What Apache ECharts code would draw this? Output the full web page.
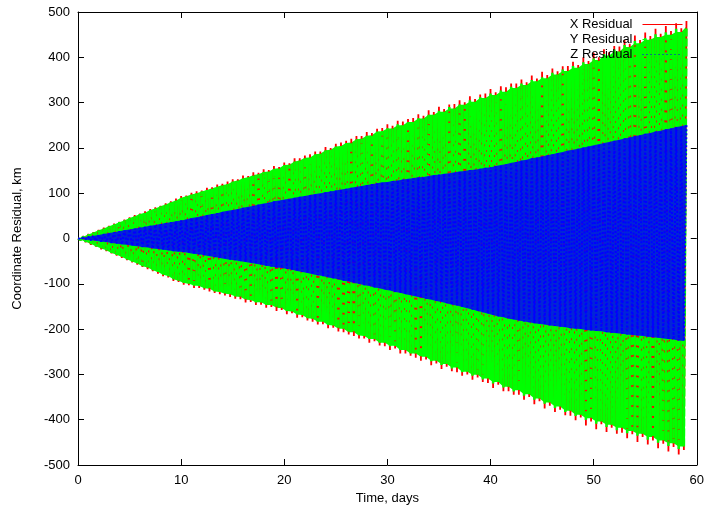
<!DOCTYPE html>
<html>
<head>
<meta charset="utf-8">
<title>Coordinate Residual</title>
<script src="https://cdn.jsdelivr.net/npm/echarts@6/dist/echarts.min.js"></script>
<style>
html, body { margin: 0; padding: 0; background: #fff; }
#chart { width: 707px; height: 510px; }
</style>
</head>
<body>
<div id="chart"></div>
<script>
// residual peaks every half day (t = 0, 0.5 ... 59), troughs a quarter day after each peak
var stepDays = 0.5;

var xHi = [
    0, 5, 10, 14, 19, 24, 28, 33, 37, 42,
    47, 52, 55, 60, 65, 69, 72, 78, 82, 88,
    94, 95, 101, 104, 106, 112, 113, 119, 121, 126,
    131, 131, 139, 138, 146, 145, 153, 151, 160, 158,
    168, 166, 177, 177, 183, 186, 192, 192, 202, 200,
    209, 212, 216, 220, 226, 226, 235, 233, 242, 244,
    252, 249, 260, 258, 264, 266, 274, 271, 283, 279,
    291, 286, 296, 297, 305, 301, 314, 308, 318, 320,
    330, 323, 336, 334, 342, 342, 351, 345, 360, 353,
    368, 361, 375, 369, 380, 381, 390, 383, 400, 392,
    410, 400, 418, 411, 425, 424, 438, 430, 448, 438,
    455, 447, 463, 452, 469, 458, 475, 464, 480
];
var xLo = [
    -4, -8, -14, -18, -24, -28, -33, -38, -43, -48,
    -53, -58, -63, -68, -72, -78, -83, -86, -94, -96,
    -102, -103, -109, -109, -113, -117, -120, -123, -126, -129,
    -133, -134, -141, -140, -147, -146, -153, -151, -160, -158,
    -167, -165, -175, -174, -181, -184, -190, -189, -198, -197,
    -205, -207, -212, -215, -221, -221, -230, -227, -236, -238,
    -246, -243, -254, -254, -259, -263, -270, -267, -280, -276,
    -288, -283, -293, -295, -303, -300, -312, -307, -317, -319,
    -330, -323, -337, -337, -345, -345, -356, -350, -366, -359,
    -375, -369, -383, -378, -390, -391, -401, -395, -413, -404,
    -421, -410, -427, -418, -431, -429, -441, -432, -449, -438,
    -455, -446, -463, -453, -470, -460, -477, -467
];

var yHi = [
    0, 4, 9, 13, 18, 22, 27, 31, 36, 40,
    45, 49, 54, 57, 63, 66, 71, 75, 80, 84,
    90, 93, 97, 100, 104, 107, 111, 114, 118, 120,
    126, 128, 133, 135, 140, 142, 147, 148, 154, 155,
    162, 163, 170, 172, 178, 179, 186, 187, 195, 196,
    203, 204, 211, 212, 219, 220, 227, 228, 236, 237,
    244, 243, 252, 250, 259, 257, 266, 265, 274, 273,
    282, 280, 290, 287, 297, 295, 305, 302, 312, 310,
    320, 317, 328, 324, 335, 332, 342, 339, 350, 347,
    358, 354, 366, 362, 373, 370, 381, 377, 389, 385,
    398, 394, 407, 404, 417, 413, 427, 423, 436, 431,
    444, 439, 451, 445, 457, 450, 463, 456, 468
];
var yLo = [
    -3, -7, -12, -17, -22, -26, -32, -36, -41, -46,
    -51, -55, -61, -64, -70, -74, -80, -83, -90, -93,
    -98, -100, -104, -105, -110, -111, -117, -118, -122, -123,
    -128, -129, -135, -136, -141, -141, -147, -147, -153, -154,
    -160, -161, -168, -169, -176, -177, -184, -184, -191, -192,
    -199, -199, -207, -207, -214, -215, -222, -222, -230, -230,
    -238, -237, -246, -246, -254, -254, -262, -261, -271, -270,
    -279, -277, -287, -285, -295, -294, -303, -301, -311, -309,
    -320, -317, -329, -327, -338, -335, -347, -344, -356, -353,
    -365, -362, -374, -371, -383, -380, -392, -389, -402, -397,
    -409, -404, -416, -411, -423, -418, -430, -425, -437, -431,
    -444, -438, -451, -446, -458, -452, -465, -459
];

var zHi = [
    0, 2, 4, 6, 8, 10, 12, 14, 16, 18,
    20, 22, 24, 26, 28, 30, 32, 34, 36, 38,
    40, 42, 45, 47, 49, 52, 54, 56, 59, 61,
    63, 65, 68, 70, 72, 75, 77, 79, 82, 84,
    86, 88, 90, 92, 94, 96, 98, 100, 102, 104,
    106, 108, 110, 112, 114, 116, 118, 120, 122, 124,
    125, 127, 128, 130, 132, 133, 135, 136, 138, 140,
    141, 143, 144, 146, 148, 149, 151, 152, 154, 156,
    157, 160, 162, 164, 167, 169, 172, 174, 177, 179,
    181, 184, 186, 189, 191, 194, 196, 198, 201, 203,
    206, 208, 211, 213, 216, 218, 221, 223, 226, 228,
    231, 233, 236, 238, 241, 243, 246, 248, 251
];
var zLo = [
    -1, -2, -4, -5, -7, -8, -10, -11, -13, -14,
    -16, -17, -19, -20, -22, -23, -25, -26, -28, -29,
    -30, -32, -34, -35, -37, -39, -41, -43, -45, -47,
    -48, -50, -52, -54, -56, -58, -60, -62, -64, -65,
    -67, -69, -72, -74, -76, -79, -81, -83, -86, -88,
    -90, -93, -95, -98, -100, -103, -105, -108, -110, -113,
    -115, -118, -120, -123, -125, -128, -130, -133, -135, -138,
    -140, -143, -146, -148, -151, -154, -157, -160, -163, -166,
    -169, -172, -174, -177, -179, -181, -183, -185, -187, -189,
    -190, -192, -193, -195, -196, -198, -199, -200, -202, -203,
    -204, -205, -207, -208, -209, -210, -212, -213, -214, -215,
    -217, -218, -219, -221, -222, -223, -225, -226
];

var xTicks = [0, 60, 10];     // min, max, step
var yTicks = [-500, 500, 100];

var FONT = '"Liberation Sans", Arial, sans-serif';

// peak, trough, peak ... as the residual swings
function zigzag(hi, lo) {
    var out = [];
    for (var i = 0; i < hi.length; i++) {
        out.push([i * stepDays, hi[i]]);
        if (i < lo.length) out.push([i * stepDays + stepDays / 2, lo[i]]);
    }
    return out;
}

// inner edge of the swings: the lower of two neighbouring peaks
function core(vals, sign) {
    return vals.map(function (v, i) {
        var n = i + 1 < vals.length ? vals[i + 1] : v;
        return sign > 0 ? Math.min(v, n) : Math.max(v, n);
    });
}

// filled envelope under the swings, so no white shows between strokes
function band(name, hi, lo, color, opacity, z) {
    return {
        type: 'custom',
        name: name,
        silent: true,
        z: z,
        data: [[0, 0]],
        renderItem: function (params, api) {
            var pts = [];
            for (var i = 0; i < hi.length; i++) pts.push(api.coord([i * stepDays, hi[i]]));
            for (var j = lo.length - 1; j >= 0; j--) pts.push(api.coord([j * stepDays + stepDays / 2, lo[j]]));
            return {
                type: 'polygon',
                shape: { points: pts },
                style: { fill: color, opacity: opacity }
            };
        }
    };
}

function lineSeries(name, hi, lo, color, width, dash, z) {
    return {
        type: 'line',
        name: name,
        z: z,
        data: zigzag(hi, lo),
        symbol: 'none',
        showSymbol: false,
        clip: true,
        lineStyle: { color: color, width: width, type: dash },
        itemStyle: { color: color }
    };
}

function frameAxis(extra) {
    var a = {
        type: 'value',
        axisLine: { show: true, onZero: false, lineStyle: { color: '#000', width: 1 } },
        axisTick: { show: true, inside: true, length: 6, lineStyle: { color: '#000' } },
        splitLine: { show: false },
        axisLabel: { color: '#000', fontFamily: FONT, fontSize: 13 }
    };
    for (var k in extra) a[k] = extra[k];
    return a;
}

var chart = echarts.init(document.getElementById('chart'));
chart.setOption({
    animation: false,
    backgroundColor: '#fff',
    grid: { left: 78, right: 7, top: 12, bottom: 45, containLabel: false },
    legend: {
        orient: 'vertical',
        right: 24,
        top: 18,
        align: 'right',
        padding: 0,
        itemWidth: 40,
        itemHeight: 12,
        itemGap: 2,
        z: 20,
        selectedMode: false,
        itemStyle: { opacity: 0 },
        textStyle: { color: '#000', fontFamily: FONT, fontSize: 13, padding: [0, 5, 0, 0] },
        data: [
            { name: 'X Residual', lineStyle: { width: 1, type: 'solid' } },
            { name: 'Y Residual', lineStyle: { width: 1, type: [4, 4] } },
            { name: 'Z Residual', lineStyle: { width: 1, type: [1, 3] } }
        ]
    },
    xAxis: [
        frameAxis({
            position: 'bottom', min: xTicks[0], max: xTicks[1], interval: xTicks[2],
            name: 'Time, days', nameLocation: 'middle', nameGap: 25,
            nameTextStyle: { color: '#000', fontFamily: FONT, fontSize: 13 },
            axisLabel: { color: '#000', fontFamily: FONT, fontSize: 13, margin: 9 }
        }),
        frameAxis({
            position: 'top', min: xTicks[0], max: xTicks[1], interval: xTicks[2],
            axisLabel: { show: false }
        })
    ],
    yAxis: [
        frameAxis({
            position: 'left', min: yTicks[0], max: yTicks[1], interval: yTicks[2],
            name: 'Coordinate Residual, km', nameLocation: 'middle', nameGap: 54,
            nameTextStyle: { color: '#000', fontFamily: FONT, fontSize: 13 },
            axisLabel: { color: '#000', fontFamily: FONT, fontSize: 13, margin: 8 }
        }),
        frameAxis({
            position: 'right', min: yTicks[0], max: yTicks[1], interval: yTicks[2],
            axisLabel: { show: false }
        })
    ],
    series: [
        band('Y envelope', core(yHi, 1), core(yLo, -1), '#00ff00', 1, 2),
        lineSeries('X Residual', xHi, xLo, '#ff0000', 1.8, 'solid', 3),
        lineSeries('Y Residual', yHi, yLo, '#00ff00', 2.5, [8, 2], 4),
        band('Z envelope', zHi, zLo, '#0000ff', 0.85, 5),
        lineSeries('Z Residual', zHi, zLo, '#0000ff', 2, [2, 2], 6)
    ]
});
</script>
</body>
</html>
